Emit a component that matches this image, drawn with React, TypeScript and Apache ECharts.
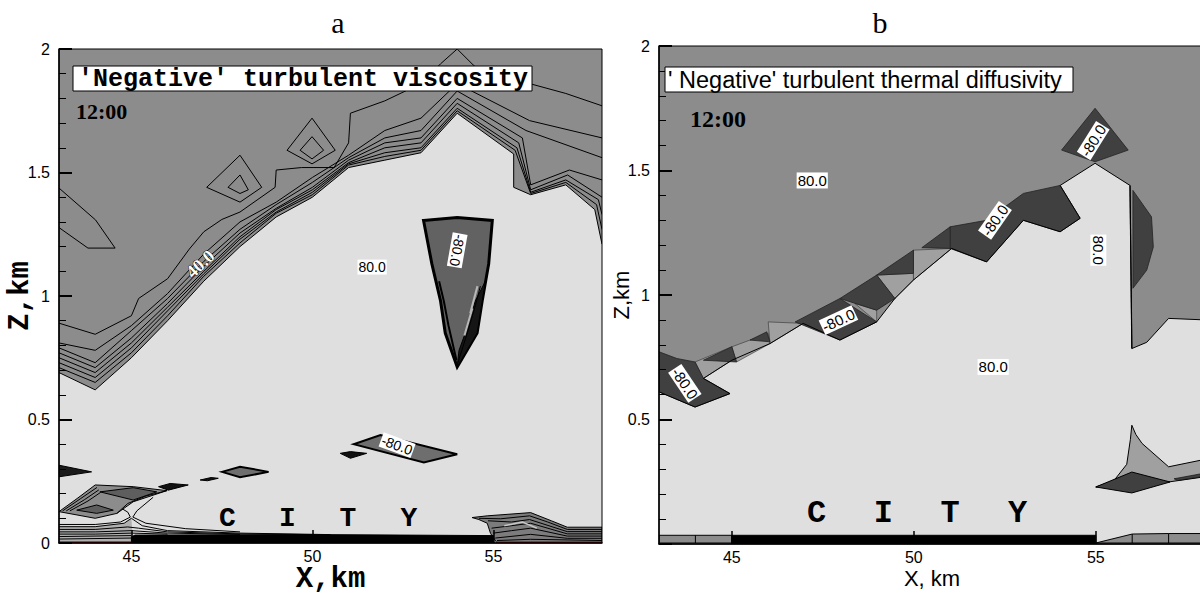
import React, { useEffect, useRef } from "react";
import * as echarts from "echarts";

// ---- axes ----
const X_MIN = 43;
const X_MAX = 58;
const Z_MIN = 0;
const Z_MAX = 2;
const X_TICKS = [45, 50, 55];

// ---- palette ----
const DARK = "#8c8c8c";
const LIGHT = "#dfdfdf";
const NEG = "#404040";
const MID = "#a0a0a0";

// ---- panel a: viscosity contours (x km, z km) ----
const A_K0 = [[43, 0.69], [44, 0.62], [45, 0.75], [46, 0.9], [47, 1.06], [48, 1.2], [49, 1.32], [50, 1.4], [51, 1.52], [52, 1.55], [53, 1.58], [54, 1.74], [55.56, 1.575], [55.56, 1.44], [56.03, 1.41], [57, 1.45], [57.8, 1.35], [58, 1.21]];
const A_K1 = [[43, 0.71], [44, 0.65], [45, 0.77], [46, 0.92], [47, 1.08], [48, 1.215], [49, 1.335], [50, 1.41], [51, 1.53], [52, 1.565], [53, 1.59], [54, 1.75], [55.6, 1.59], [56.03, 1.415], [57, 1.46], [57.85, 1.37], [58, 1.27]];
const A_K2 = [[43, 0.73], [44, 0.67], [45, 0.79], [46, 0.94], [47, 1.09], [48, 1.23], [49, 1.34], [50, 1.42], [51, 1.535], [52, 1.58], [53, 1.6], [54, 1.76], [55.65, 1.6], [56.03, 1.42], [57, 1.47], [57.9, 1.39], [58, 1.33]];
const A_K3 = [[43, 0.75], [44, 0.69], [45, 0.81], [46, 0.955], [47, 1.1], [48, 1.24], [49, 1.35], [50, 1.43], [51, 1.54], [52, 1.6], [53, 1.62], [54, 1.78], [55.7, 1.62], [56.03, 1.43], [57.05, 1.49], [58, 1.4]];
const A_K4 = [[43, 0.77], [44, 0.71], [45, 0.83], [46, 0.97], [47, 1.12], [48, 1.255], [49, 1.355], [50, 1.44], [51, 1.55], [52, 1.62], [53, 1.64], [54, 1.8], [55.8, 1.64], [56.03, 1.45], [57.1, 1.51], [58, 1.47]];
const A_K5 = [[43, 0.79], [44, 0.73], [45, 0.86], [46, 0.99], [47, 1.14], [48, 1.27], [49, 1.37], [50, 1.46], [51, 1.56], [52, 1.64], [53, 1.67], [54, 1.83], [55.9, 1.67], [58, 1.56]];
const A_K6 = [[43, 0.81], [44, 0.78], [45, 0.88], [46, 1.01], [47, 1.17], [48, 1.3], [49, 1.38], [50, 1.48], [51, 1.57], [52, 1.67], [53, 1.72], [54, 1.86], [56, 1.71], [58, 1.64]];
const A_K7 = [[43, 0.89], [44, 0.845], [45, 0.92], [45.2, 0.99], [46, 1.07], [46.6, 1.19], [47, 1.26], [47.5, 1.31], [48, 1.34], [48.97, 1.44], [49, 1.51], [49.7, 1.52], [50.6, 1.52], [51, 1.62], [51.05, 1.74], [52, 1.79], [53, 1.86], [53.54, 1.94], [54, 2.0]];
const A_K7_EAST = [[54, 2.0], [54.41, 1.94], [55, 1.86], [56, 1.86], [57, 1.82], [58, 1.77]];
const A_LEFT_LOOP = [[43, 1.437], [44.01, 1.308], [44.55, 1.194], [43.8, 1.194], [43, 1.277]];
const A_DIAMOND_1_OUT = [[47.08, 1.44], [48.0, 1.57], [48.6, 1.44], [48.0, 1.38]];
const A_DIAMOND_1_IN = [[47.67, 1.44], [48.0, 1.49], [48.23, 1.43], [48.0, 1.415]];
const A_DIAMOND_2_OUT = [[49.3, 1.59], [49.99, 1.72], [50.63, 1.59], [49.99, 1.535]];
const A_DIAMOND_2_IN = [[49.66, 1.59], [49.99, 1.645], [50.31, 1.59], [49.99, 1.555]];

const A_CONE = [[53.07, 1.306], [54.0, 1.318], [54.97, 1.306], [54.87, 1.13], [54.69, 0.98], [54.55, 0.85], [54.0, 0.713], [53.67, 0.85], [53.54, 0.98], [53.3, 1.13]];
const A_CONE_CORE = [[54.0, 0.713], [54.55, 0.85], [54.69, 0.98], [54.78, 1.06], [54.5, 0.98], [54.3, 0.88], [54.05, 0.78]];
const A_CONE_FAN_1 = [[53.98, 0.74], [53.76, 0.88], [53.63, 0.98], [53.5, 1.06]];
const A_CONE_FAN_2 = [[54.02, 0.73], [54.3, 0.86], [54.5, 0.96], [54.64, 1.04]];
const A_CONE_STREAK_1 = [[54.36, 0.93], [54.56, 1.04]];
const A_CONE_STREAK_2 = [[54.2, 0.84], [54.42, 0.95]];

const A_WEDGE_L = [[43, 0.315], [43.9, 0.288], [43, 0.268]];
const A_BLOB_L = [[43, 0.127], [43.5, 0.18], [44.0, 0.235], [45.05, 0.228], [45.98, 0.212], [45.05, 0.167], [44.6, 0.12], [44.0, 0.1]];
const A_BLOB_L_CORE_1 = [[44.13, 0.207], [45.05, 0.224], [45.7, 0.207], [45.05, 0.174]];
const A_BLOB_L_CORE_2 = [[43.49, 0.133], [44.04, 0.154], [44.5, 0.133], [44.04, 0.12]];
const A_BLOB_L_LINE_1 = [[43.1, 0.13], [43.6, 0.18], [44.05, 0.225]];
const A_BLOB_L_LINE_2 = [[43.2, 0.13], [43.7, 0.175], [44.1, 0.215]];
const A_BLOB_L_LINE_3 = [[43.3, 0.13], [43.8, 0.17], [44.15, 0.205]];
const A_BLOB_L_LINE_4 = [[44.6, 0.12], [44.9, 0.16], [45.4, 0.19], [45.98, 0.212]];
const A_SPECK_1 = [[45.75, 0.228], [46.07, 0.241], [46.57, 0.235], [46.02, 0.214]];
const A_SPECK_2 = [[46.9, 0.255], [47.2, 0.265], [47.4, 0.262], [47.1, 0.252]];
const A_DIAMOND_3 = [[47.5, 0.288], [48.0, 0.309], [48.79, 0.288], [48.0, 0.266]];
const A_SPECK_3 = [[50.77, 0.363], [51.05, 0.37], [51.5, 0.363], [51.05, 0.343]];
const A_NEG_DIAMOND = [[51.14, 0.4], [51.88, 0.437], [54.0, 0.359], [53.08, 0.326]];

const A_GROUND_W = [[43, 0], [43, 0.07], [44, 0.068], [44.8, 0.08], [45, 0.1], [45.05, 0]];
const A_GROUND_1 = [[43, 0.066], [44, 0.066], [44.8, 0.08], [45.0, 0.1], [45.3, 0.07], [46, 0.05], [48, 0.04], [50.5, 0.034]];
const A_GROUND_2 = [[43, 0.055], [44, 0.055], [44.9, 0.065], [45.2, 0.06], [46, 0.045], [48, 0.037], [50, 0.034]];
const A_GROUND_3 = [[43, 0.045], [44, 0.045], [45, 0.05], [46, 0.04], [48, 0.035]];
const A_GROUND_4 = [[43, 0.036], [44, 0.036], [45, 0.04], [46, 0.036]];
const A_GROUND_5 = [[43, 0.026], [45, 0.03]];
const A_GROUND_6 = [[43, 0.016], [45, 0.02]];
const A_WAIST_W = [[44.5, 0.16], [44.9, 0.125], [44.97, 0.105], [44.7, 0.085], [44, 0.075], [43, 0.075]];
const A_WAIST_E = [[45.6, 0.185], [45.15, 0.13], [45.04, 0.105], [45.4, 0.08], [46.5, 0.058], [48, 0.045]];

const A_BLOB_R = [[54.41, 0.103], [54.83, 0.11], [56.03, 0.123], [56.6, 0.09], [57.04, 0.064], [58, 0.064], [58, 0], [55.1, 0], [54.92, 0.039], [54.83, 0.08], [54.6, 0.095]];
const A_BLOB_R_1 = [[54.6, 0.1], [55.2, 0.098], [56.0, 0.11], [56.5, 0.085], [57.04, 0.055], [58, 0.055]];
const A_BLOB_R_2 = [[54.85, 0.09], [55.5, 0.085], [56.0, 0.095], [57.04, 0.046], [58, 0.046]];
const A_BLOB_R_3 = [[54.95, 0.06], [55.5, 0.07], [56.03, 0.08], [57.04, 0.037], [58, 0.037]];
const A_BLOB_R_4 = [[55.0, 0.04], [55.5, 0.05], [56.03, 0.06], [57.04, 0.028], [58, 0.028]];
const A_BLOB_R_5 = [[55.05, 0.02], [56.03, 0.035], [57.04, 0.019], [58, 0.019]];
const A_BLOB_R_6 = [[55.1, 0.01], [56.03, 0.015], [58, 0.01]];
const A_BLOB_R_STREAK = [[55.3, 0.07], [55.8, 0.085], [56.2, 0.06]];

const A_BAR = [[45, 0], [45, 0.025], [45.1, 0.032], [50, 0.034], [55, 0.03], [55, 0]];
const A_RED_W = [[43, 0.003], [45, 0.003]];
const A_RED_E = [[55.1, 0.003], [58, 0.003]];

// contour level labels: text, x, z, rotation (deg)
const A_TAG_TEXT = ["40.0", "80.0", "-80.0", "-80.0"];
const A_TAG_X = [46.9, 51.65, 54.0, 52.34];
const A_TAG_Z = [1.13, 1.117, 1.185, 0.396];
const A_TAG_ROT = [43, 0, -100, -20];

// ---- panel b: thermal diffusivity contours ----
const B_LIGHT = [[43, 0], [43, 0.611], [43.99, 0.55], [44.95, 0.604], [44.22, 0.665], [45.0, 0.738], [46.05, 0.805], [46.96, 0.886], [47.97, 0.819], [48.98, 0.892], [49.48, 0.986], [49.99, 1.06], [51.04, 1.187], [52.0, 1.133], [53.01, 1.3], [54.02, 1.254], [54.57, 1.308], [54.02, 1.44], [54.98, 1.529], [55.94, 1.44], [55.99, 0.785], [56.4, 0.81], [57.0, 0.906], [58, 0.9], [58, 0]];
const B_EDGE = [[43, 0.611], [43.99, 0.55], [44.95, 0.604], [44.22, 0.665], [45.0, 0.738], [46.05, 0.805], [46.96, 0.886], [47.97, 0.819], [48.98, 0.892], [49.48, 0.986], [49.99, 1.06], [51.04, 1.187], [52.0, 1.133], [53.01, 1.3], [54.02, 1.254], [54.57, 1.308], [54.02, 1.44], [54.98, 1.529], [55.94, 1.44], [55.99, 0.785], [56.4, 0.81], [57.0, 0.906], [58, 0.9]];
const B_MID_1 = [[43.99, 0.731], [45.0, 0.792], [45.0, 0.738], [44.22, 0.665]];
const B_MID_2 = [[45.0, 0.792], [46.0, 0.846], [46.05, 0.805], [45.13, 0.731]];
const B_MID_3 = [[46.0, 0.892], [46.96, 0.886], [46.05, 0.805]];
const B_MID_4 = [[48.38, 0.966], [48.98, 0.939], [48.98, 0.892]];
const B_MID_5 = [[48.98, 1.08], [49.99, 1.087], [49.99, 1.06], [49.48, 0.986]];
const B_MID_6 = [[49.99, 1.18], [51.04, 1.187], [49.99, 1.06]];
const B_NEG_1 = [[43, 0.772], [43.49, 0.745], [43.99, 0.731], [44.22, 0.665], [44.95, 0.604], [43.99, 0.55], [43, 0.611]];
const B_NEG_2 = [[44.22, 0.738], [45.0, 0.792], [45.13, 0.731]];
const B_NEG_3 = [[45.5, 0.819], [45.96, 0.852], [46.05, 0.812]];
const B_NEG_4 = [[46.74, 0.892], [47.97, 0.986], [48.98, 0.892], [47.97, 0.819]];
const B_NEG_5 = [[47.97, 0.986], [48.98, 1.08], [49.48, 0.986], [48.98, 0.939]];
const B_NEG_6 = [[48.98, 1.08], [49.99, 1.18], [49.99, 1.087]];
const B_NEG_7 = [[50.22, 1.19], [51.0, 1.274], [51.04, 1.187]];
const B_NEG_8 = [[51.0, 1.274], [52.0, 1.3], [53.01, 1.408], [54.02, 1.44], [54.57, 1.308], [54.02, 1.254], [53.01, 1.3], [52.0, 1.133], [51.0, 1.187]];
const B_NEG_9 = [[54.06, 1.582], [54.98, 1.75], [55.89, 1.582], [54.98, 1.535]];
const B_NEG_10 = [[56.02, 1.42], [56.53, 1.314], [56.58, 1.193], [56.4, 1.1], [56.02, 1.027]];
const B_VERT = [[55.94, 1.44], [55.99, 0.785]];
const B_PLUME = [[55.99, 0.477], [56.1, 0.44], [56.27, 0.404], [57.0, 0.31], [58, 0.34], [58, 0.27], [57.04, 0.25], [55.0, 0.229], [55.5, 0.255], [55.85, 0.32], [55.95, 0.42]];
const B_NEG_11 = [[55.0, 0.229], [55.99, 0.289], [57.04, 0.249], [55.99, 0.205]];
const B_SLIVER = [[57.15, 0.262], [58, 0.285], [58, 0.272], [57.25, 0.255]];
const B_STRIP_W = [[43, 0.004], [43, 0.035], [45, 0.035], [45, 0.004]];
const B_STRIP_W_DIV = [[44, 0.004], [44, 0.035]];
const B_STRIP_E = [[55, 0.004], [56, 0.04], [57, 0.042], [58, 0.042], [58, 0.004]];
const B_STRIP_E_DIV_1 = [[56, 0.004], [56, 0.04]];
const B_STRIP_E_DIV_2 = [[57, 0.004], [57, 0.042]];
const B_BAR = [[45, 0], [45, 0.035], [55, 0.035], [55, 0]];

const B_TAG_TEXT = ["80.0", "80.0", "80.0", "-80.0", "-80.0", "-80.0", "-80.0"];
const B_TAG_X = [47.21, 52.18, 55.07, 43.71, 47.93, 52.23, 54.93];
const B_TAG_Z = [1.46, 0.711, 1.18, 0.645, 0.899, 1.3, 1.62];
const B_TAG_ROT = [0, 0, -90, -56, 25, 55, 58];

type Shape = { pts: number[][]; fill?: string; stroke?: string; width?: number; open?: boolean };

function shapeSeries(grid: number, shapes: Shape[]) {
  return {
    type: "custom",
    xAxisIndex: grid,
    yAxisIndex: grid,
    clip: true,
    silent: true,
    data: shapes.map((s, i) => [s.pts[0][0], s.pts[0][1], i]),
    encode: { x: 0, y: 1 },
    renderItem: (params: any, api: any) => {
      const s = shapes[params.dataIndex];
      const points = s.pts.map((p) => api.coord(p));
      if (s.open) {
        return {
          type: "polyline",
          shape: { points },
          style: { fill: null, stroke: s.stroke ?? "#000", lineWidth: s.width ?? 1 },
        };
      }
      return {
        type: "polygon",
        shape: { points },
        style: { fill: s.fill ?? null, stroke: s.stroke ?? null, lineWidth: s.width ?? 1 },
      };
    },
  };
}

function tagSeries(grid: number, text: string[], xs: number[], zs: number[], rots: number[], size: number) {
  return {
    type: "custom",
    xAxisIndex: grid,
    yAxisIndex: grid,
    clip: true,
    silent: true,
    data: xs.map((x, i) => [x, zs[i]]),
    encode: { x: 0, y: 1 },
    renderItem: (params: any, api: any) => {
      const i = params.dataIndex;
      const p = api.coord([xs[i], zs[i]]);
      const halo = text[i] === "40.0";
      return {
        type: "text",
        x: p[0],
        y: p[1],
        rotation: (rots[i] * Math.PI) / 180,
        style: halo
          ? {
              text: text[i],
              font: `bold 18px "Liberation Serif"`,
              fill: "#fff",
              stroke: "#111",
              lineWidth: 1,
              align: "center",
              verticalAlign: "middle",
            }
          : {
              text: text[i],
              font: `${size}px "Liberation Sans"`,
              fill: "#000",
              align: "center",
              verticalAlign: "middle",
              backgroundColor: "#fff",
              padding: [1, 1, 0, 1],
            },
      };
    },
  };
}

const line = (pts: number[][], stroke = "#000", width = 1): Shape => ({ pts, stroke, width, open: true });
const area = (pts: number[][], fill: string, stroke?: string, width = 1): Shape => ({ pts, fill, stroke, width });

function axisPair(grid: number, hideZero: boolean, nameFont: any, xName: string, zName: string, xGap: number, zGap: number) {
  const tickFont = { fontSize: 16, fontFamily: "Liberation Sans", color: "#000" };
  return {
    x: {
      type: "value",
      gridIndex: grid,
      min: X_MIN,
      max: X_MAX,
      z: 10,
      name: xName,
      nameLocation: "middle",
      nameGap: xGap,
      nameMoveOverlap: false,
      nameTextStyle: { ...nameFont, color: "#000", lineHeight: nameFont.fontSize },
      axisLine: { show: true, lineStyle: { color: "#000", width: 1.5 } },
      axisTick: { show: true, inside: true, length: 13, customValues: X_TICKS, lineStyle: { color: "#000", width: 1.5 } },
      axisLabel: { ...tickFont, margin: 5, customValues: X_TICKS },
      splitLine: { show: false },
    },
    z: {
      type: "value",
      gridIndex: grid,
      min: Z_MIN,
      max: Z_MAX,
      interval: 0.5,
      z: 10,
      name: zName,
      nameLocation: "middle",
      nameGap: zGap,
      nameMoveOverlap: false,
      nameTextStyle: { ...nameFont, color: "#000", lineHeight: nameFont.fontSize },
      axisLine: { show: true, lineStyle: { color: "#000", width: 1.5 } },
      axisTick: { show: true, inside: true, length: 13, lineStyle: { color: "#000", width: 2 } },
      minorTick: { show: true, splitNumber: 5, length: 7, lineStyle: { color: "#000", width: 1 } },
      axisLabel: {
        ...tickFont,
        margin: 9,
        formatter: (v: number) => (hideZero && v === 0 ? "" : String(v)),
      },
      splitLine: { show: false },
    },
  };
}

function buildOption() {
  const monoBold = { fontFamily: "Liberation Mono", fontWeight: "bold", fontSize: 29 };
  const sans = { fontFamily: "Liberation Sans", fontSize: 22 };
  const axA = axisPair(0, false, monoBold, "X,km", "Z,km", 22, 24);
  const axB = axisPair(1, true, sans, "X, km", "Z,km", 23, 27);

  const aShapes: Shape[] = [
    area([...A_K0, [58, 0], [43, 0]], LIGHT),
    area(A_GROUND_W, "#b0b0b0"),
    line(A_GROUND_1), line(A_GROUND_2), line(A_GROUND_3), line(A_GROUND_4), line(A_GROUND_5), line(A_GROUND_6),
    line(A_WAIST_W), line(A_WAIST_E),
    area(A_BLOB_L, DARK, "#000", 1),
    area(A_BLOB_L_CORE_1, "#5e5e5e", "#000", 1),
    area(A_BLOB_L_CORE_2, "#5e5e5e", "#000", 1),
    line(A_BLOB_L_LINE_1), line(A_BLOB_L_LINE_2), line(A_BLOB_L_LINE_3), line(A_BLOB_L_LINE_4),
    area(A_WEDGE_L, "#1a1a1a", "#000", 1),
    area(A_SPECK_1, "#111", "#000", 1),
    area(A_SPECK_2, "#111", "#000", 1),
    area(A_DIAMOND_3, "#6e6e6e", "#000", 2),
    area(A_SPECK_3, "#111", "#000", 1),
    area(A_NEG_DIAMOND, "#6e6e6e", "#000", 2),
    area(A_BLOB_R, "#7c7c7c", "#000", 1),
    line(A_BLOB_R_1), line(A_BLOB_R_2), line(A_BLOB_R_3), line(A_BLOB_R_4), line(A_BLOB_R_5), line(A_BLOB_R_6),
    line(A_BLOB_R_STREAK, "#c8c8c8", 1.5),
    line(A_K0), line(A_K1), line(A_K2), line(A_K3), line(A_K4), line(A_K5), line(A_K6), line(A_K7), line(A_K7_EAST),
    line(A_LEFT_LOOP),
    area(A_DIAMOND_1_OUT, "none", "#000", 1),
    area(A_DIAMOND_1_IN, "none", "#000", 1),
    area(A_DIAMOND_2_OUT, "none", "#000", 1),
    area(A_DIAMOND_2_IN, "none", "#000", 1),
    area(A_CONE, "#626262", "#000", 3),
    area(A_CONE_CORE, "#151515", "#000", 1),
    line(A_CONE_FAN_1, "#000", 2), line(A_CONE_FAN_2, "#000", 1),
    line(A_CONE_STREAK_1, "#b8b8b8", 2), line(A_CONE_STREAK_2, "#b8b8b8", 2),
    area(A_BAR, "#000", "#000", 1),
    line(A_RED_W, "#e00000", 2), line(A_RED_E, "#e00000", 2),
  ];

  const bShapes: Shape[] = [
    area(B_LIGHT, LIGHT),
    area(B_MID_1, MID, "#333", 0.6), area(B_MID_2, MID, "#333", 0.6), area(B_MID_3, MID, "#333", 0.6),
    area(B_MID_4, MID, "#333", 0.6), area(B_MID_5, MID, "#333", 0.6), area(B_MID_6, MID, "#333", 0.6),
    area(B_NEG_1, NEG, "#222", 0.8), area(B_NEG_2, NEG, "#222", 0.8), area(B_NEG_3, NEG, "#222", 0.8),
    area(B_NEG_4, NEG, "#222", 0.8), area(B_NEG_5, NEG, "#222", 0.8), area(B_NEG_6, NEG, "#222", 0.8),
    area(B_NEG_7, NEG, "#222", 0.8), area(B_NEG_8, NEG, "#222", 0.8), area(B_NEG_9, NEG, "#222", 0.8),
    area(B_NEG_10, NEG, "#222", 0.8),
    line(B_EDGE, "#000", 1),
    line(B_VERT, "#000", 1.2),
    area(B_PLUME, MID, "#000", 1),
    area(B_NEG_11, NEG, "#000", 1),
    area(B_SLIVER, NEG, "#000", 0.6),
    area(B_STRIP_W, DARK, "#000", 1),
    line(B_STRIP_W_DIV),
    area(B_STRIP_E, DARK, "#000", 1),
    line(B_STRIP_E_DIV_1), line(B_STRIP_E_DIV_2),
    area(B_BAR, "#000", "#000", 1),
  ];

  const cityA = ["C", "I", "T", "Y"].map((ch, i) => ({
    type: "text",
    x: [227.5, 287.5, 348, 409][i],
    y: 518,
    z: 50,
    style: { text: ch, font: 'bold 28px "Liberation Mono"', fill: "#000", align: "center", verticalAlign: "middle" },
  }));
  const cityB = ["C", "I", "T", "Y"].map((ch, i) => ({
    type: "text",
    x: [816.7, 883.3, 950, 1017.6][i],
    y: 513,
    z: 50,
    style: { text: ch, font: 'bold 32px "Liberation Mono"', fill: "#000", align: "center", verticalAlign: "middle" },
  }));

  return {
    animation: false,
    backgroundColor: "#fff",
    grid: [
      { left: 59, top: 49, width: 543, height: 494, show: true, backgroundColor: DARK, borderWidth: 0, containLabel: false, outerBoundsMode: "none" },
      { left: 659, top: 46, width: 546, height: 498, show: true, backgroundColor: DARK, borderWidth: 0, containLabel: false, outerBoundsMode: "none" },
    ],
    xAxis: [axA.x, axB.x],
    yAxis: [axA.z, axB.z],
    series: [
      shapeSeries(0, aShapes),
      tagSeries(0, A_TAG_TEXT, A_TAG_X, A_TAG_Z, A_TAG_ROT, 14),
      shapeSeries(1, bShapes),
      tagSeries(1, B_TAG_TEXT, B_TAG_X, B_TAG_Z, B_TAG_ROT, 15),
    ],
    graphic: [
      { type: "rect", z: 40, shape: { x: 59, y: 49, width: 543, height: 494 }, style: { fill: null, stroke: "#000", lineWidth: 1 } },
      { type: "rect", z: 40, shape: { x: 659, y: 46, width: 546, height: 498 }, style: { fill: null, stroke: "#000", lineWidth: 1 } },
      { type: "text", x: 338, y: 22, z: 50, style: { text: "a", font: '30px "Liberation Serif"', fill: "#000", align: "center", verticalAlign: "middle" } },
      { type: "text", x: 880, y: 22, z: 50, style: { text: "b", font: '30px "Liberation Serif"', fill: "#000", align: "center", verticalAlign: "middle" } },
      { type: "rect", z: 45, shape: { x: 73, y: 66, width: 459, height: 25 }, style: { fill: "#fff", stroke: "#000", lineWidth: 1 } },
      { type: "text", x: 78, y: 79, z: 50, style: { text: "'Negative' turbulent viscosity", font: 'bold 25px "Liberation Mono"', fill: "#000", verticalAlign: "middle" } },
      { type: "text", x: 76, y: 111, z: 50, style: { text: "12:00", font: 'bold 22px "Liberation Serif"', fill: "#000", verticalAlign: "middle" } },
      { type: "rect", z: 45, shape: { x: 665, y: 67, width: 408, height: 25 }, style: { fill: "#fff", stroke: "#000", lineWidth: 1 } },
      { type: "text", x: 668, y: 80, z: 50, style: { text: "' Negative' turbulent thermal diffusivity", font: '23.5px "Liberation Sans"', fill: "#000", verticalAlign: "middle" } },
      { type: "text", x: 690, y: 118.5, z: 50, style: { text: "12:00", font: 'bold 24px "Liberation Serif"', fill: "#000", verticalAlign: "middle" } },
      ...cityA,
      ...cityB,
    ],
  };
}

export default function App() {
  const ref = useRef<HTMLDivElement>(null);
  useEffect(() => {
    const chart = echarts.init(ref.current as HTMLDivElement, null, { renderer: "svg" });
    chart.setOption(buildOption() as any);
    return () => chart.dispose();
  }, []);
  return (
    <div
      ref={ref}
      style={{ position: "absolute", left: 0, top: 0, width: 1200, height: 596, background: "#fff" }}
    />
  );
}
